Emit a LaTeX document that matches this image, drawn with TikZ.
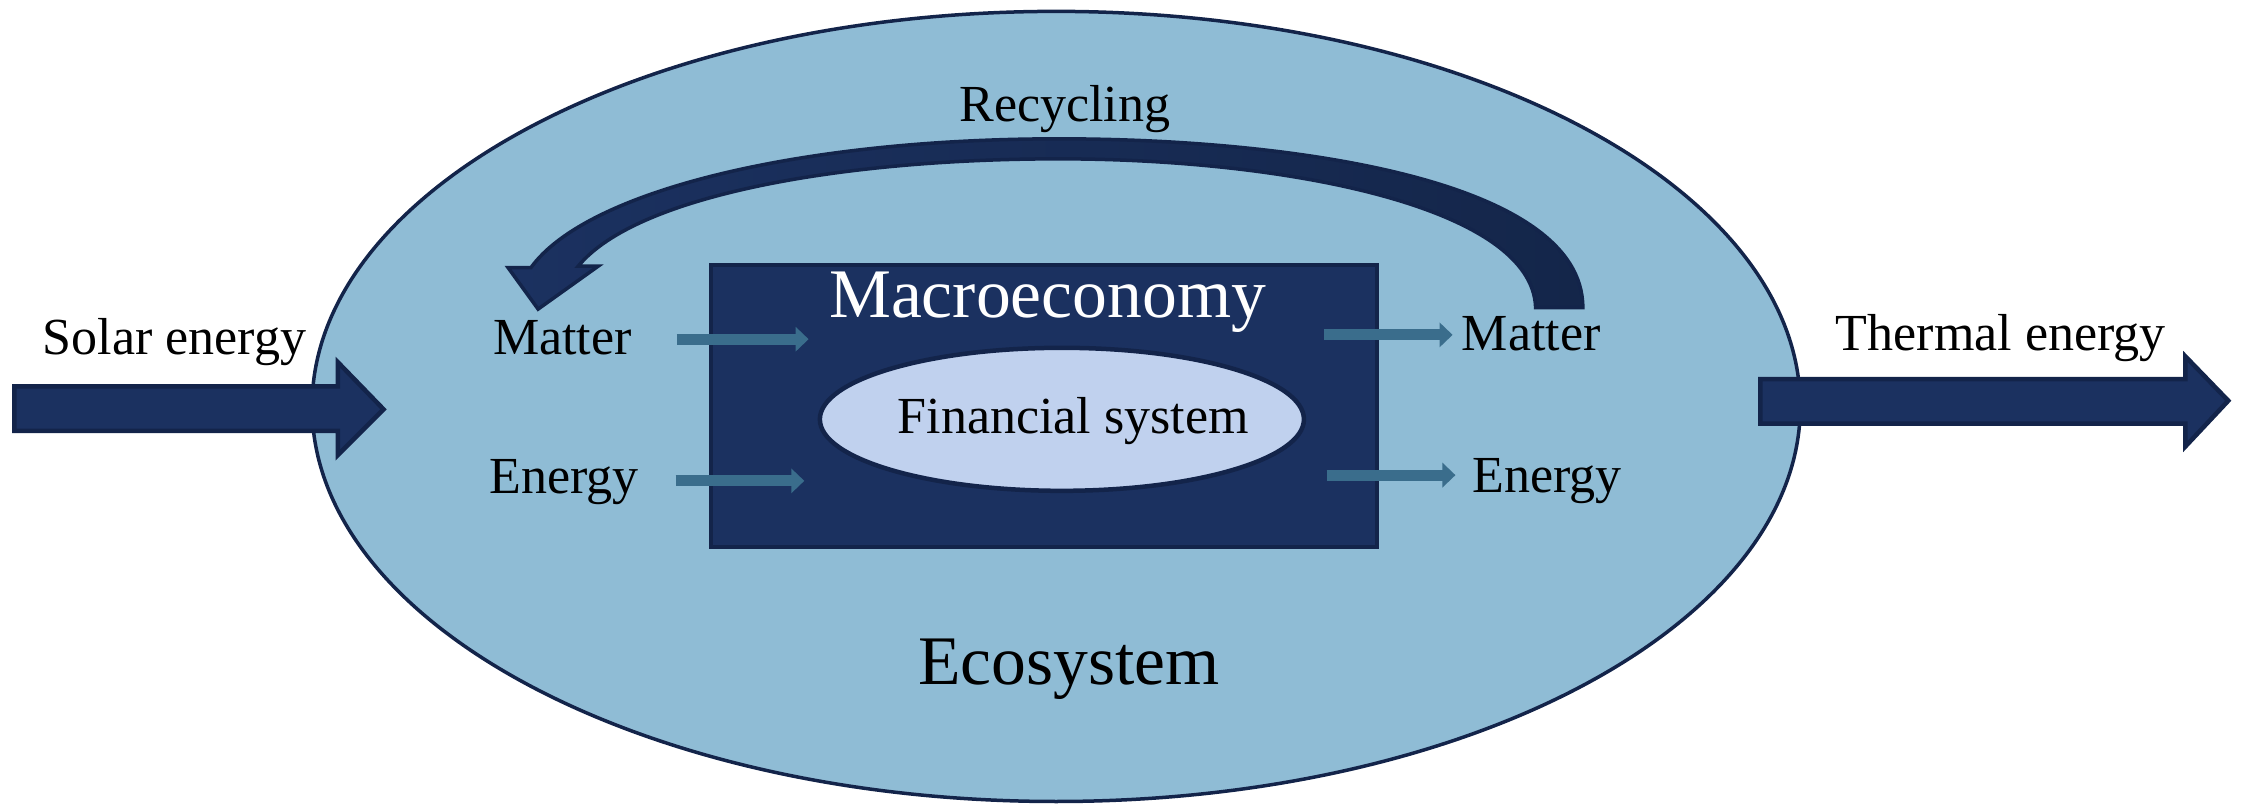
\documentclass[tikz,border=0pt]{standalone}
\usepackage{fontspec}
\setmainfont{Liberation Serif}
\usetikzlibrary{arrows.meta,shapes.geometric}
\definecolor{eco}{HTML}{8FBCD5}
\definecolor{navy}{HTML}{1B3160}
\definecolor{navydark}{HTML}{14264A}
\definecolor{navyline}{HTML}{13244A}
\definecolor{fin}{HTML}{C0D1EE}
\definecolor{flow}{HTML}{3A6D8C}
\begin{document}
\begin{tikzpicture}[x=0.1431mm,y=-0.1431mm,
  lbl/.style={font=\fontsize{14.8}{17}\selectfont, inner sep=0, anchor=base},
  biglbl/.style={font=\fontsize{19.8}{23}\selectfont, inner sep=0, anchor=base},
  bigarrow/.style={fill=navy, draw=navyline, line width=0.45mm, line join=miter},
  flowarrow/.style={draw=flow, line width=1.1mm, -{Triangle[length=1.3mm,width=2.4mm]}}]
\useasboundingbox (0,0) rectangle (1568,565);
% ecosystem
\node[ellipse, draw=navyline, fill=eco, line width=0.35mm, minimum width=148.8mm, minimum height=79mm, inner sep=0] (eco) at (738,284) {};
% macroeconomy box
\node[rectangle, draw=navyline, fill=navy, line width=0.4mm, minimum width=66.5mm, minimum height=28.2mm, inner sep=0] (macro) at (729.5,283.5) {};
% financial system
\node[ellipse, draw=navyline, fill=fin, line width=0.45mm, minimum width=48.4mm, minimum height=14.3mm, inner sep=0] (fin) at (742,293) {};
% big arrows
\draw[bigarrow] (10,270) -- (236,270) -- (236,253) -- (268,286) -- (236,318) -- (236,301) -- (10,301) -- cycle;
\draw[bigarrow] (1230,265) -- (1527,265) -- (1527,249) -- (1557,280) -- (1527,312) -- (1527,296) -- (1230,296) -- cycle;
% recycling arrow
\draw[left color=navy, right color=navydark, draw=navyline, line width=0.35mm, line join=miter]
  (1106,215) .. controls (1106,125) and (900,97) .. (740,97)
  .. controls (560,97) and (410,133) .. (371,187)
  -- (355,187) -- (376,216) -- (418,186) -- (404,186)
  .. controls (445,136) and (590,111) .. (740,111)
  .. controls (900,111) and (1071,145) .. (1073,215) -- cycle;
% labels
\node[lbl] (solar) at (122,248) {Solar energy};
\node[lbl] (thermal) at (1398,245) {Thermal energy};
\node[lbl] (recyc) at (744,85) {Recycling};
\node[lbl] (matterL) at (393,248) {Matter};
\node[lbl] (energyL) at (394,345) {Energy};
\node[lbl] (matterR) at (1070,245) {Matter};
\node[lbl] (energyR) at (1081,344) {Energy};
\node[biglbl, text=white] (macrolbl) at (732,222) {Macroeconomy};
\node[lbl] (finlbl) at (750,303) {Financial system};
\node[biglbl] (ecolbl) at (747,478) {Ecosystem};
% flow arrows
\coordinate (mLs) at (473,237); \coordinate (mLe) at (565,237);
\coordinate (eLs) at (472,336); \coordinate (eLe) at (562,336);
\coordinate (mRs) at (925,234); \coordinate (mRe) at (1015,234);
\coordinate (eRs) at (927,332); \coordinate (eRe) at (1017,332);
\draw[flowarrow] (mLs) -- (mLe);
\draw[flowarrow] (eLs) -- (eLe);
\draw[flowarrow] (mRs) -- (mRe);
\draw[flowarrow] (eRs) -- (eRe);
\end{tikzpicture}
\end{document}
